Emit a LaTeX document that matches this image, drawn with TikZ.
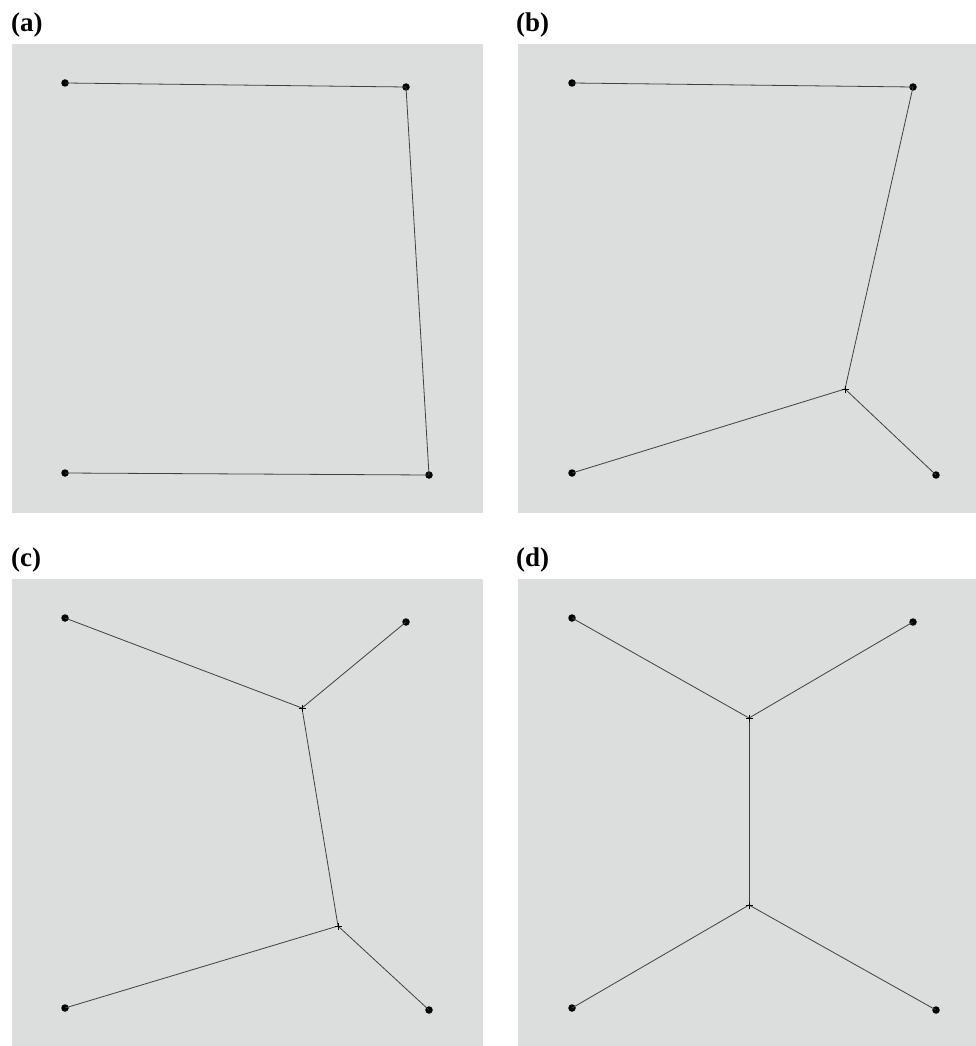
\documentclass[tikz,border=0pt]{standalone}
\usepackage{fontspec}
\setmainfont{Liberation Serif}
\begin{document}
\begin{tikzpicture}[x=1pt,y=-1pt,
  term/.style={circle,fill=black,inner sep=0pt,minimum size=7.5pt},
  edge/.style={draw=black!75,line width=0.8pt},
  crossmark/.style={line width=1pt},
  lab/.style={anchor=base west,inner sep=0pt,font=\fontsize{27}{27}\selectfont\bfseries}]
\definecolor{panelgray}{HTML}{DCDDDD}
\useasboundingbox (0,0) rectangle (976,1046);
% panels
\fill[panelgray] (12,44) rectangle (483,513);
\fill[panelgray] (518,44) rectangle (976,513);
\fill[panelgray] (12,579) rectangle (483,1048);
\fill[panelgray] (518,579) rectangle (976,1048);
% labels
\node[lab] (la) at (11,32) {(a)};
\node[lab] (lb) at (516,32) {(b)};
\node[lab] (lc) at (11,566) {(c)};
\node[lab] (ld) at (516,566) {(d)};
% (a)
\node[term] (a1) at (65,83) {};
\node[term] (a2) at (406,87) {};
\node[term] (a3) at (65,473) {};
\node[term] (a4) at (429,475) {};
\draw[edge] (a1.center) -- (a2.center) -- (a4.center) -- (a3.center);
% (b)
\node[term] (b1) at (572,83) {};
\node[term] (b2) at (913,87) {};
\node[term] (b3) at (572,473) {};
\node[term] (b4) at (936,475) {};
\coordinate (bs) at (845,389);
\draw[edge] (b1.center) -- (b2.center) -- (bs) -- (b3.center);
\draw[edge] (bs) -- (b4.center);
\draw[crossmark] (841.5,389) -- (848.5,389) (845,385.5) -- (845,392.5);
% (c)
\node[term] (c1) at (65,618) {};
\node[term] (c2) at (406,622) {};
\node[term] (c3) at (65,1008) {};
\node[term] (c4) at (429,1010) {};
\coordinate (cs1) at (302,708);
\coordinate (cs2) at (338,926);
\draw[edge] (c1.center) -- (cs1) -- (c2.center);
\draw[edge] (cs1) -- (cs2);
\draw[edge] (c3.center) -- (cs2) -- (c4.center);
\draw[crossmark] (298.5,708) -- (305.5,708) (302,704.5) -- (302,711.5);
\draw[crossmark] (334.5,926) -- (341.5,926) (338,922.5) -- (338,929.5);
% (d)
\node[term] (d1) at (572,618) {};
\node[term] (d2) at (913,622) {};
\node[term] (d3) at (572,1008) {};
\node[term] (d4) at (936,1010) {};
\coordinate (ds1) at (749,718);
\coordinate (ds2) at (749,905);
\draw[edge] (d1.center) -- (ds1) -- (d2.center);
\draw[edge] (ds1) -- (ds2);
\draw[edge] (d3.center) -- (ds2) -- (d4.center);
\draw[crossmark] (745.5,718) -- (752.5,718) (749,714.5) -- (749,721.5);
\draw[crossmark] (745.5,905) -- (752.5,905) (749,901.5) -- (749,908.5);
\end{tikzpicture}
\end{document}
